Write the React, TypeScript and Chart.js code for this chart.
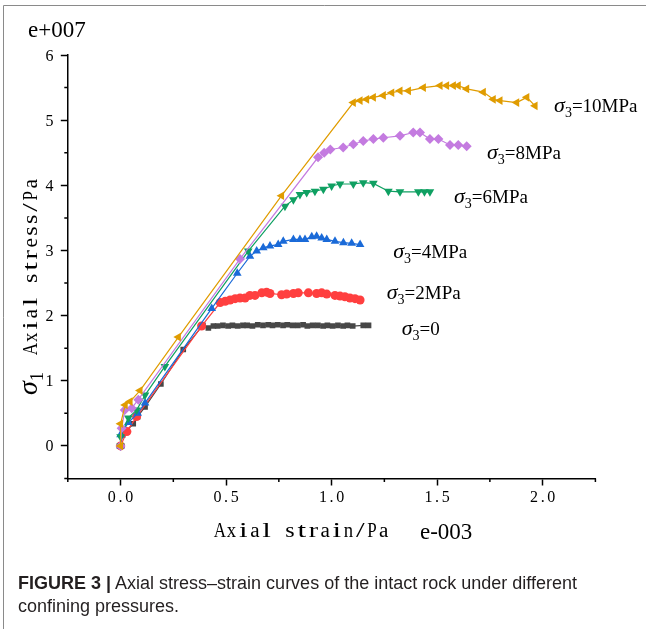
import { useEffect, useRef } from 'react';
import { Chart, registerables } from 'chart.js';
Chart.register(...registerables);

// ---- data (strain in 1e-3, stress in 1e7 Pa) ----
const strain0 = [0, 0.01, 0.06, 0.081, 0.116, 0.191, 0.297, 0.39, 0.416, 0.44, 0.46, 0.485, 0.51, 0.53, 0.555, 0.58, 0.6, 0.625, 0.65, 0.675, 0.7, 0.72, 0.745, 0.77, 0.79, 0.815, 0.84, 0.865, 0.885, 0.91, 0.935, 0.96, 0.98, 1.005, 1.03, 1.055, 1.075, 1.1, 1.15, 1.175];
const stress0 = [0, 0.17, 0.34, 0.45, 0.6, 0.95, 1.48, 1.85, 1.81, 1.84, 1.84, 1.85, 1.84, 1.85, 1.84, 1.85, 1.85, 1.84, 1.86, 1.85, 1.86, 1.85, 1.86, 1.85, 1.86, 1.85, 1.85, 1.86, 1.84, 1.85, 1.85, 1.84, 1.85, 1.84, 1.85, 1.84, 1.85, 1.84, 1.85, 1.85];

const strain2 = [0, 0.03, 0.076, 0.384, 0.472, 0.496, 0.519, 0.543, 0.566, 0.59, 0.613, 0.637, 0.669, 0.692, 0.708, 0.763, 0.787, 0.819, 0.842, 0.89, 0.929, 0.953, 0.977, 1.016, 1.04, 1.063, 1.087, 1.111, 1.135];
const stress2 = [0, 0.22, 0.45, 1.84, 2.2, 2.22, 2.24, 2.26, 2.27, 2.27, 2.31, 2.31, 2.35, 2.36, 2.34, 2.32, 2.33, 2.34, 2.35, 2.35, 2.34, 2.35, 2.33, 2.31, 2.3, 2.29, 2.27, 2.26, 2.24];

const strain4 = [0, 0, 0.037, 0.081, 0.116, 0.432, 0.553, 0.613, 0.645, 0.676, 0.708, 0.747, 0.771, 0.819, 0.85, 0.874, 0.906, 0.929, 0.953, 0.977, 1.016, 1.056, 1.095, 1.135];
const stress4 = [0, 0.17, 0.36, 0.5, 0.66, 2.11, 2.65, 2.91, 2.99, 3.04, 3.07, 3.09, 3.14, 3.17, 3.17, 3.17, 3.21, 3.22, 3.19, 3.17, 3.14, 3.12, 3.11, 3.09];

const strain6 = [0, 0, 0.037, 0.076, 0.116, 0.21, 0.605, 0.779, 0.819, 0.85, 0.882, 0.921, 0.961, 1.0, 1.04, 1.103, 1.15, 1.198, 1.269, 1.324, 1.411, 1.44, 1.466];
const stress6 = [0, 0.14, 0.43, 0.55, 0.78, 1.22, 2.99, 3.68, 3.78, 3.86, 3.89, 3.91, 3.94, 3.99, 4.02, 4.02, 4.04, 4.03, 3.91, 3.9, 3.9, 3.9, 3.9];

const strain8 = [0, 0.005, 0.02, 0.053, 0.084, 0.566, 0.936, 0.965, 0.994, 1.055, 1.103, 1.15, 1.198, 1.245, 1.324, 1.387, 1.419, 1.466, 1.506, 1.561, 1.6, 1.64];
const stress8 = [0, 0.27, 0.55, 0.58, 0.71, 2.87, 4.43, 4.5, 4.55, 4.58, 4.63, 4.68, 4.71, 4.73, 4.76, 4.81, 4.81, 4.71, 4.71, 4.62, 4.62, 4.6];

const strain10 = [0, 0, 0.022, 0.045, 0.092, 0.274, 0.763, 1.103, 1.135, 1.166, 1.198, 1.245, 1.285, 1.324, 1.364, 1.435, 1.514, 1.545, 1.577, 1.6, 1.64, 1.719, 1.766, 1.798, 1.877, 1.925, 1.964];
const stress10 = [0, 0.34, 0.63, 0.68, 0.85, 1.67, 3.84, 5.27, 5.3, 5.32, 5.35, 5.38, 5.42, 5.45, 5.45, 5.5, 5.53, 5.53, 5.53, 5.53, 5.48, 5.43, 5.32, 5.3, 5.27, 5.35, 5.22];

const seriesLabels = ['σ3=0', 'σ3=2MPa', 'σ3=4MPa', 'σ3=6MPa', 'σ3=8MPa', 'σ3=10MPa'];
const labelTails = ['=0', '=2MPa', '=4MPa', '=6MPa', '=8MPa', '=10MPa'];
const labelAnchorX = [1.332, 1.261, 1.292, 1.58, 1.736, 2.054];
const labelAnchorY = [1.71, 2.25, 2.89, 3.73, 4.4, 5.12];

const xMajorTicks = [0, 0.5, 1.0, 1.5, 2.0];
const xMinorTicks = [-0.25, 0.25, 0.75, 1.25, 1.75, 2.25];
const yMajorTicks = [0, 1, 2, 3, 4, 5, 6];
const yMinorTicks = [-0.5, 0.5, 1.5, 2.5, 3.5, 4.5, 5.5];

const xTitle = 'Axial strain/Pa';
const yTitle = 'Axial stress/Pa';

const zip = (xs: number[], ys: number[]) => xs.map((x, i) => ({ x, y: ys[i] }));

const SERIF = "'Liberation Serif', 'Times New Roman', serif";

// draw text in fixed-width cells (SimSun-like half-width layout), glyphs widened to fill the cell
function drawCells(ctx: CanvasRenderingContext2D, text: string, x: number, y: number, cell: number, fill: number) {
  for (let i = 0; i < text.length; i++) {
    const ch = text[i];
    if (ch === ' ') continue;
    const w = ctx.measureText(ch).width;
    const k = fill > 0 ? Math.max(0.85, Math.min(1.55, (cell * fill) / w)) : 1;
    ctx.save();
    ctx.translate(x + i * cell + cell / 2, y);
    ctx.scale(k, 1);
    ctx.fillText(ch, -w / 2, 0);
    ctx.restore();
  }
}

const decorPlugin = {
  id: 'decor',
  beforeDraw(chart: any) {
    const ctx = chart.ctx;
    ctx.save();
    ctx.strokeStyle = '#8a8a8a';
    ctx.lineWidth = 1;
    ctx.beginPath();
    ctx.moveTo(3.5, chart.height);
    ctx.lineTo(3.5, 5.5);
    ctx.lineTo(chart.width, 5.5);
    ctx.stroke();
    ctx.restore();
  },
  afterDraw(chart: any) {
    const ctx = chart.ctx;
    const xs = chart.scales.x;
    const ys = chart.scales.y;
    const area = chart.chartArea;
    ctx.save();
    // minor ticks
    ctx.strokeStyle = '#000';
    ctx.lineWidth = 1.5;
    ctx.beginPath();
    xMinorTicks.forEach((v) => {
      const px = xs.getPixelForValue(v);
      ctx.moveTo(px, area.bottom);
      ctx.lineTo(px, area.bottom + 3.5);
    });
    yMinorTicks.forEach((v) => {
      const py = ys.getPixelForValue(v);
      ctx.moveTo(area.left, py);
      ctx.lineTo(area.left - 3.5, py);
    });
    ctx.stroke();

    ctx.fillStyle = '#000';
    ctx.textBaseline = 'alphabetic';
    ctx.textAlign = 'left';

    // tick labels from the scales' ticks
    const tickCell = 8.7;
    ctx.font = `16px ${SERIF}`;
    xs.ticks.forEach((t: any) => {
      const s = Number(t.value).toFixed(1);
      const px = xs.getPixelForValue(t.value);
      drawCells(ctx, s, px - (s.length * tickCell) / 2, area.bottom + 23.5, tickCell, 0);
    });
    ys.ticks.forEach((t: any) => {
      const s = String(t.value);
      const py = ys.getPixelForValue(t.value);
      drawCells(ctx, s, area.left - 14 - s.length * tickCell, py + 5.5, tickCell, 0);
    });

    // exponent labels
    ctx.font = `23px ${SERIF}`;
    ctx.fillText('e+007', 28, 37);
    ctx.fillText('e-003', 420, 539);
    // x title
    ctx.font = `20px ${SERIF}`;
    drawCells(ctx, xTitle, 214, 537, 11.7, 0.8);
    // y title
    ctx.save();
    ctx.translate(37, 395);
    ctx.rotate(-Math.PI / 2);
    ctx.font = `italic 28px ${SERIF}`;
    ctx.fillText('σ', 0, 0);
    const sw = ctx.measureText('σ').width;
    ctx.font = `19px ${SERIF}`;
    ctx.fillText('1', sw, 6);
    ctx.font = `20px ${SERIF}`;
    drawCells(ctx, yTitle, 40, 0, 11.8, 0.8);
    ctx.restore();
    // series labels
    labelTails.forEach((t, i) => {
      const px = xs.getPixelForValue(labelAnchorX[i]);
      const py = ys.getPixelForValue(labelAnchorY[i]);
      ctx.font = `italic 22px ${SERIF}`;
      ctx.fillText('σ', px, py);
      const w1 = ctx.measureText('σ').width;
      ctx.font = `14px ${SERIF}`;
      ctx.fillText('3', px + w1, py + 5);
      const w2 = ctx.measureText('3').width;
      ctx.font = `19px ${SERIF}`;
      ctx.fillText(t, px + w1 + w2, py);
    });
    ctx.restore();
  },
};

export default function App() {
  const ref = useRef<HTMLCanvasElement | null>(null);
  useEffect(() => {
    if (!ref.current) return;
    const mk = (i: number, xs: number[], ys: number[], color: string, style: string, rot: number, r: number, order: number) => ({
      label: seriesLabels[i],
      data: zip(xs, ys),
      showLine: true,
      borderColor: color,
      backgroundColor: color,
      borderWidth: 1.2,
      pointStyle: style,
      pointRotation: rot,
      pointRadius: r,
      pointBorderWidth: 0,
      pointBackgroundColor: color,
      order,
    });
    const chart = new Chart(ref.current, {
      type: 'scatter',
      data: {
        datasets: [
          mk(0, strain0, stress0, '#474747', 'rect', 0, 4, 5),
          mk(1, strain2, stress2, '#ff3f3f', 'circle', 0, 4.5, 4),
          mk(2, strain4, stress4, '#1a6ad8', 'triangle', 0, 5, 3),
          mk(3, strain6, stress6, '#0fa062', 'triangle', 180, 5, 2),
          mk(4, strain8, stress8, '#c47be0', 'rectRot', 0, 5, 1),
          mk(5, strain10, stress10, '#e09c00', 'triangle', 270, 5, 0),
        ] as any,
      },
      options: {
        animation: false,
        responsive: false,
        devicePixelRatio: 1,
        layout: { padding: { top: 55, left: 0, right: 50.6, bottom: 90.5 } },
        plugins: { legend: { display: false }, tooltip: { enabled: false } },
        scales: {
          x: {
            type: 'linear',
            min: -0.25,
            max: 2.25,
            afterBuildTicks: (s: any) => {
              s.ticks = xMajorTicks.map((v) => ({ value: v }));
            },
            afterFit: (s: any) => {
              s.height = 60;
            },
            ticks: { display: false, stepSize: 0.5, autoSkip: false },
            grid: { display: true, drawOnChartArea: false, drawTicks: true, tickLength: 7, tickColor: '#000', tickWidth: 1.5 },
            border: { display: true, color: '#000', width: 1.5 },
          },
          y: {
            type: 'linear',
            min: -0.5,
            max: 6,
            afterBuildTicks: (s: any) => {
              s.ticks = yMajorTicks.map((v) => ({ value: v }));
            },
            afterFit: (s: any) => {
              s.width = 67.8;
            },
            ticks: { display: false, stepSize: 1, autoSkip: false },
            grid: { display: true, drawOnChartArea: false, drawTicks: true, tickLength: 7, tickColor: '#000', tickWidth: 1.5 },
            border: { display: true, color: '#000', width: 1.5 },
          },
        },
      },
      plugins: [decorPlugin],
    });
    return () => chart.destroy();
  }, []);

  return (
    <div style={{ position: 'absolute', left: 0, top: 0, width: 646, height: 629, background: '#fff' }}>
      <canvas ref={ref} width={646} height={629} style={{ width: 646, height: 629, display: 'block' }} />
      <div
        style={{
          position: 'absolute',
          left: 18,
          top: 572,
          width: 625,
          fontFamily: "'Liberation Sans', Arial, sans-serif",
          fontSize: 18,
          lineHeight: '23px',
          color: '#231f20',
          whiteSpace: 'nowrap',
        }}
      >
        <b>FIGURE 3 |</b> Axial stress–strain curves of the intact rock under different
        <br />
        confining pressures.
      </div>
    </div>
  );
}
